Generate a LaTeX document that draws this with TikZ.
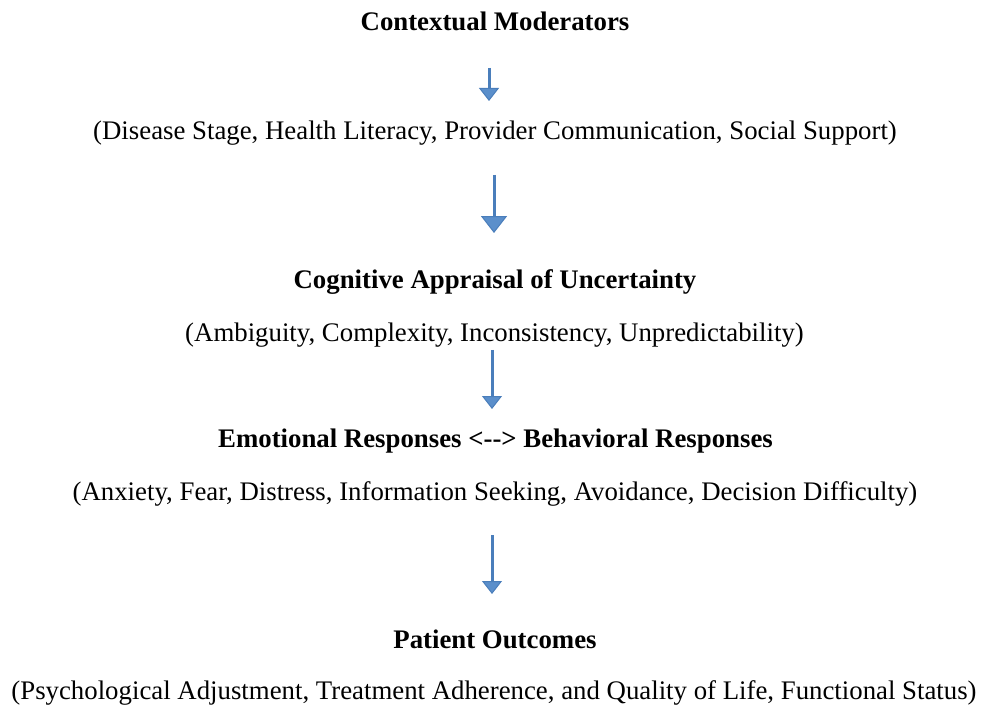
\documentclass[tikz,border=0pt]{standalone}
\usepackage{fontspec}
\setmainfont{Liberation Serif}
\usetikzlibrary{arrows.meta}
\definecolor{flowblue}{HTML}{4A7EBB}
\definecolor{flowfill}{HTML}{5B8FCB}
\tikzset{
  head/.style={font=\fontsize{26.8}{31}\selectfont\bfseries, inner sep=0pt},
  detail/.style={font=\fontsize{26.8}{31}\selectfont, inner sep=0pt},
  flow/.style={draw=flowblue, line width=3pt,
    -{Triangle[width=#1pt, length=0.65*#1pt, fill=flowfill, line width=1pt]}},
  flow/.default=20
}
\begin{document}
\begin{tikzpicture}[x=1pt, y=-1pt]
  \useasboundingbox (0,0) rectangle (982,708);
  \fill[white] (0,0) rectangle (982,708);

  \node[head]   (mod)   at (495,21)  {Contextual Moderators};
  \node[detail] (modd)  at (495,133) {(Disease Stage, Health Literacy, Provider Communication, Social Support)};
  \node[head]   (cog)   at (495,282) {Cognitive Appraisal of Uncertainty};
  \node[detail] (cogd)  at (494.5,335) {(Ambiguity, Complexity, Inconsistency, Unpredictability)};
  \node[head]   (resp)  at (495.5,441) {Emotional Responses <-{}-> Behavioral Responses};
  \node[detail] (respd) at (495,494) {(Anxiety, Fear, Distress, Information Seeking, Avoidance, Decision Difficulty)};
  \node[head]   (out)   at (495,639) {Patient Outcomes};
  \node[detail] (outd)  at (494,693) {(Psychological Adjustment, Treatment Adherence, and Quality of Life, Functional Status)};

  % arrow end points between the text blocks
  \coordinate (a1s) at (489,68);  \coordinate (a1e) at (489,101);
  \coordinate (a2s) at (494,175); \coordinate (a2e) at (494,233);
  \coordinate (a3s) at (492,350); \coordinate (a3e) at (492,409);
  \coordinate (a4s) at (492,535); \coordinate (a4e) at (492,594);

  \draw[flow]     (a1s) -- (a1e);
  \draw[flow=26]  (a2s) -- (a2e);
  \draw[flow]     (a3s) -- (a3e);
  \draw[flow]     (a4s) -- (a4e);
\end{tikzpicture}
\end{document}
